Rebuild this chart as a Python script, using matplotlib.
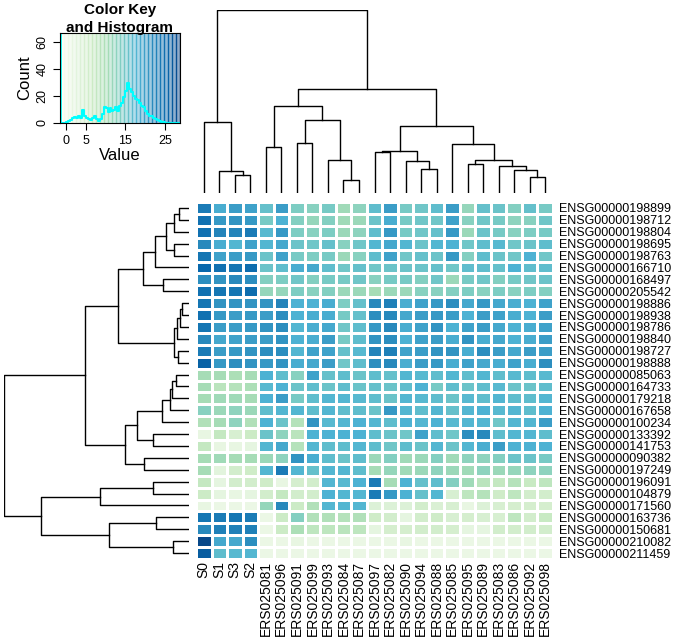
import matplotlib
matplotlib.use("Agg")
import matplotlib.pyplot as plt
import numpy as np

plt.rcParams["font.family"] = ["Liberation Sans", "DejaVu Sans"]

W, H = 678, 643

col_labels = ["S0", "S1", "S3", "S2",
              "ERS025081", "ERS025096", "ERS025091", "ERS025099", "ERS025093",
              "ERS025084", "ERS025087", "ERS025097", "ERS025082", "ERS025090",
              "ERS025094", "ERS025088", "ERS025085", "ERS025095", "ERS025089",
              "ERS025083", "ERS025086", "ERS025092", "ERS025098"]

row_labels = ["ENSG00000198899", "ENSG00000198712", "ENSG00000198804",
              "ENSG00000198695", "ENSG00000198763", "ENSG00000166710",
              "ENSG00000168497", "ENSG00000205542", "ENSG00000198886",
              "ENSG00000198938", "ENSG00000198786", "ENSG00000198840",
              "ENSG00000198727", "ENSG00000198888", "ENSG00000085063",
              "ENSG00000164733", "ENSG00000179218", "ENSG00000167658",
              "ENSG00000100234", "ENSG00000133392", "ENSG00000141753",
              "ENSG00000090382", "ENSG00000197249", "ENSG00000196091",
              "ENSG00000104879", "ENSG00000171560", "ENSG00000163736",
              "ENSG00000150681", "ENSG00000210082", "ENSG00000211459"]

# expression values, rows top to bottom, columns in dendrogram order
values = [
    [23, 18, 19.5, 19, 15.5, 19.5, 13.5, 12.5, 14, 10.5, 12, 16, 19.5, 14, 14.5, 16, 19.5, 11.5, 15.5, 15, 13, 15.5, 14],
    [24, 20, 20.5, 20, 14, 17.5, 13, 11.5, 13, 10.5, 11, 15, 18, 14, 14.5, 14.5, 19, 12.5, 14.5, 14, 12, 12.5, 14.5],
    [24, 22, 22, 23, 16.5, 20, 13.5, 12.5, 13.5, 11, 12, 16, 20, 14, 14.5, 15.5, 20, 11, 15, 14, 12.5, 13.5, 14],
    [21.5, 18, 17, 19, 17, 18.5, 15, 14.5, 15.5, 12.5, 14.5, 17, 18.5, 17, 15, 17, 17.5, 14.5, 16, 16.5, 14.5, 15, 16],
    [23.5, 19, 19.5, 20, 15, 19, 14, 13.5, 14, 11, 12.5, 16, 19, 14.5, 15.5, 15, 20, 13, 16, 15, 14.5, 17.5, 14.5],
    [25, 24, 23.5, 24.5, 15, 16, 18, 18.5, 16, 14.5, 15.5, 14.5, 15, 15, 15, 15.5, 14.5, 16, 16, 15.5, 17.5, 16, 16],
    [21, 20.5, 21.5, 21, 13, 13.5, 14.5, 13, 14, 14, 14.5, 12.5, 14, 14, 13, 14.5, 11, 14, 14.5, 13, 14, 14.5, 15],
    [24, 23.5, 23.5, 24.5, 11.5, 11.5, 13.5, 12.5, 13, 11, 11, 10, 11, 11, 12.5, 12.5, 13, 13.5, 12.5, 13.5, 12.5, 13.5, 13],
    [23.5, 20.5, 20.5, 20.5, 20.5, 22, 17.5, 17.5, 18, 13.5, 15.5, 21.5, 22.5, 18, 19, 20, 21, 18.5, 20, 18.5, 18, 17.5, 19],
    [24, 20, 19.5, 20, 19.5, 21, 17.5, 18, 18, 14, 15.5, 21, 21.5, 18.5, 19.5, 20, 19.5, 17.5, 19.5, 19, 18, 17.5, 19.5],
    [23.5, 19.5, 19.5, 20, 20.5, 21, 17, 18, 18.5, 14.5, 16, 20, 21.5, 18, 19, 20.5, 17.5, 19, 19.5, 18.5, 17.5, 18, 19],
    [21.5, 18.5, 19, 19.5, 19.5, 20.5, 17.5, 18, 19.5, 14, 16, 20.5, 21, 17.5, 19, 19.5, 18, 20.5, 18, 18.5, 17.5, 18, 19.5],
    [23, 19.5, 20, 20.5, 21, 21, 17, 19, 19, 15.5, 16.5, 22, 22.5, 19, 19.5, 20.5, 20.5, 18, 21, 19.5, 18.5, 19.5, 19.5],
    [25.5, 20, 21, 20.5, 20, 20.5, 18, 18.5, 19.5, 14.5, 16, 21, 21.5, 18, 19.5, 20, 18, 19, 18.5, 18, 19, 18, 21],
    [10, 10, 9.5, 10, 17.5, 16, 12.5, 19, 15.5, 16, 15, 16, 15.5, 17, 16.5, 16, 17, 16, 17, 16, 16.5, 16, 16.5],
    [10, 8, 8.5, 9.5, 16.5, 17.5, 15, 16, 15, 16, 15, 15.5, 15, 16, 17.5, 14, 16, 15, 16, 16.5, 15, 15, 16],
    [10, 10.5, 10.5, 10, 17.5, 19.5, 14, 16, 17, 17, 16.5, 16, 15, 17, 16.5, 16, 15, 16.5, 16, 17, 16, 16, 17],
    [12.5, 11, 12, 11, 16, 17, 17, 16, 17, 16, 16, 15, 20, 17, 16, 17, 15.5, 17, 17.5, 16.5, 17, 16, 17.5],
    [9, 10, 12, 9, 17.5, 15, 8.5, 20.5, 16.5, 17, 17.5, 17, 16, 17.5, 17, 17.5, 16.5, 17, 17, 14.5, 17, 17, 19.5],
    [1, 7, 4, 6, 15, 12, 8, 17.5, 17.5, 17.5, 17.5, 16, 15, 14.5, 19, 16, 14.5, 21, 21.5, 16, 17, 17, 16],
    [7, 1, 1, 1.5, 17, 18.5, 8.5, 17, 16, 16, 17, 16, 14.5, 16, 15, 17, 15, 17, 18, 19.5, 17.5, 17.5, 17.5],
    [10, 10.5, 10, 10, 11, 12, 20.5, 18, 16, 15, 16, 11, 13, 10.5, 11, 13, 10.5, 12, 12, 13, 15, 15, 14],
    [10, 2, 5, 5.5, 17, 23, 17, 15.5, 17, 17, 16, 10, 11.5, 10.5, 11, 12, 11, 10.5, 12, 11, 11.5, 12, 12],
    [7, 1.5, 5, 5, 5.5, 1, 4.5, 5, 17, 16.5, 17.5, 23, 10, 17.5, 15.5, 16, 13, 10.5, 8, 7, 8.5, 6.5, 7.5],
    [6, 1.5, 1, 1.5, 5, 7, 5, 5, 17.5, 17, 17, 23, 20, 17.5, 15.5, 17, 4, 7.5, 8.5, 5.5, 7.5, 5, 5],
    [1, 0.5, 0.5, 0.5, 11.5, 21.5, 6, 9, 17, 17, 17, 3, 3, 3, 5, 3.5, 4, 1, 3, 4, 4.5, 4.5, 4.5],
    [23.5, 23, 23.5, 23, 0.5, 6, 13, 9, 9, 8.5, 9, 5.5, 5, 1.5, 5, 5.5, 4, 4.5, 4, 4, 7.5, 5, 6.5],
    [21.5, 22.5, 22.5, 22.5, 0.5, 6, 9.5, 7.5, 7.5, 8, 7.5, 1.5, 4.5, 4.5, 5, 5, 4.5, 1.5, 1.5, 5, 5, 5, 5],
    [28, 18.5, 18.5, 21, 0.5, 0.5, 1, 0.5, 0.5, 0.5, 0.5, 0.5, 0.5, 1, 0.5, 0.5, 0.5, 0.5, 0.5, 0.5, 0.5, 0.5, 0.5],
    [26, 16, 16.5, 17, 0.5, 0.5, 0.5, 0.5, 0.5, 0.5, 0.5, 0.5, 0.5, 0.5, 0.5, 0.5, 0.5, 0.5, 0.5, 0.5, 0.5, 0.5, 0.5],
]

# row tree nodes: (left, right, height); ints are row positions
r_top = ((((0, 1, 30), 2, 45), (3, 4, 45), 70), 5, 103)
r_a1a = (r_top, (6, 7, 77), 140)
r_a1b = ((((8, 9, 20), 10, 27), 11, 35), (12, 13, 33), 45)
r_a1 = (r_a1a, r_a1b, 215)
r_a2a = (((((14, 15, 40), 16, 50), 17, 58), 18, 82), (19, 20, 110), 157)
r_a2 = (r_a2a, (21, 22, 137), 192)
r_a = (r_a1, r_a2, 315)
r_b = (((23, 24, 110), 25, 268), ((26, 27, 100), (28, 29, 48), 242), 445)
row_tree = (r_a, r_b, 558)

# column tree nodes: ints are column positions
c_s = (0, (1, (2, 3, 55), 65), 212)
c_left = ((4, 5, 138), ((6, 7, 150), (8, (9, 10, 40), 98), 220), 260)
c_r1 = ((11, 12, 122), (13, (14, 15, 72), 95), 127)
c_r2 = (16, ((17, 18, 88), (19, (20, (21, 22, 48), 68), 82), 100), 147)
c_e = (c_left, (c_r1, c_r2, 202), 312)
col_tree = (c_s, c_e, 550)

# histogram in the colour key
hist_edges = np.arange(-1.5, 28.51, 0.5)
hist_counts = [0, 0, 0, 0.5, 1.5, 2.5, 3.5, 4.5, 4, 5, 4, 10, 5.5, 4, 3, 2.5,
               4, 5.5, 3, 1.5, 3, 7, 12, 11, 8, 11, 9, 10, 12, 9, 13, 15, 19,
               24, 30, 25, 23, 20, 18, 17, 15, 13, 12, 9, 7, 5, 5, 4, 3, 2,
               1.5, 1, 0.5, 0, 0, 0, 0, 0, 0, 0, 0]

vmin, vmax = -1.5, 28.8
cmap = plt.get_cmap("GnBu")
norm = matplotlib.colors.Normalize(vmin, vmax)


def px_axes(fig, x0, y0, x1, y1):
    return fig.add_axes([x0 / W, 1 - y1 / H, (x1 - x0) / W, (y1 - y0) / H])


def draw_tree(ax, node, top):
    if isinstance(node, int):
        return node, 0
    left, right, h = node
    pl, hl = draw_tree(ax, left, top)
    pr, hr = draw_tree(ax, right, top)
    if top:
        ax.plot([pl, pl, pr, pr], [hl, h, h, hr], color="black", lw=1.0)
    else:
        ax.plot([hl, h, h, hr], [pl, pl, pr, pr], color="black", lw=1.0)
    return (pl + pr) / 2, h


fig = plt.figure(figsize=(W / 100, H / 100), dpi=100)

# heatmap
data = np.array(values)
nr, nc = data.shape
ax = px_axes(fig, 196, 202, 553, 559)
ax.pcolormesh(np.arange(nc + 1) - 0.5, np.arange(nr + 1) - 0.5, data,
              cmap=cmap, norm=norm, edgecolors="white", linewidth=1.0)
ax.set_xlim(-0.5, nc - 0.5)
ax.set_ylim(nr - 0.5, -0.5)
for s in ax.spines.values():
    s.set_visible(False)
ax.set_xticks(np.arange(nc))
ax.set_xticklabels(col_labels, rotation=90, fontsize=10)
ax.set_yticks(np.arange(nr))
ax.set_yticklabels(row_labels, fontsize=9)
ax.yaxis.tick_right()
ax.tick_params(axis="x", length=0, pad=1.5)
ax.tick_params(axis="y", length=0, pad=4.5)

# row dendrogram
axr = px_axes(fig, 4, 202, 189, 559)
draw_tree(axr, row_tree, top=False)
axr.set_xlim(row_tree[2], 0)
axr.set_ylim(nr - 0.5, -0.5)
axr.axis("off")

# column dendrogram
axc = px_axes(fig, 196, 10, 553, 193)
draw_tree(axc, col_tree, top=True)
axc.set_xlim(-0.5, nc - 0.5)
axc.set_ylim(0, col_tree[2])
axc.axis("off")

# colour key with histogram
axk = px_axes(fig, 60, 33, 180, 123)
key_breaks = np.linspace(vmin, vmax, 31)
key_mid = (key_breaks[:-1] + key_breaks[1:]) / 2
key_cols = cmap(norm(key_mid))
pale = key_cols * 0.45 + 0.55
pale[:, 3] = 1
axk.bar(key_mid, 70, width=np.diff(key_breaks), color=pale, linewidth=0)
for b, c in zip(key_breaks[1:], key_cols):
    axk.axvline(b, color=c, lw=1.0)
axk.step(hist_edges, hist_counts, where="post", color="cyan", lw=1.5)
axk.axvline(vmin, color="cyan", lw=2)
axk.set_xlim(vmin, vmax)
axk.set_ylim(0, 67)
axk.set_xticks([0, 5, 15, 25])
axk.set_yticks([0, 20, 40, 60])
axk.tick_params(labelsize=9, length=5)
for t in axk.get_yticklabels():
    t.set_rotation(90)
    t.set_va("center")
axk.set_xlabel("Value", fontsize=12, labelpad=1)
axk.set_ylabel("Count", fontsize=12, labelpad=3)
fig.text(120 / W, 1 - 10 / H, "Color Key", ha="center", va="center",
         fontsize=11, fontweight="bold")
fig.text(120 / W, 1 - 28 / H, "and Histogram", ha="center", va="center",
         fontsize=11, fontweight="bold")

fig.savefig("out.png", dpi=100)
